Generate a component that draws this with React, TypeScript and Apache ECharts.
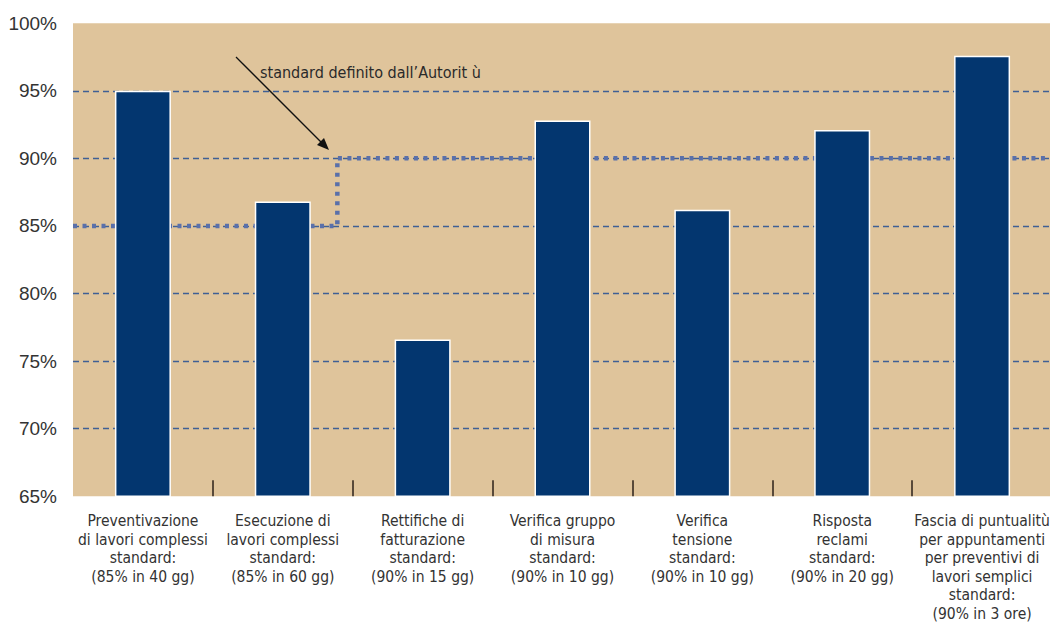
import React, { useEffect, useRef } from "react";
import * as echarts from "echarts";

// Service categories (x axis), one label per bar
const categories: string[] = [
  "Preventivazione\ndi lavori complessi\nstandard:\n(85% in 40 gg)",
  "Esecuzione di\nlavori complessi\nstandard:\n(85% in 60 gg)",
  "Rettifiche di\nfatturazione\nstandard:\n(90% in 15 gg)",
  "Verifica gruppo\ndi misura\nstandard:\n(90% in 10 gg)",
  "Verifica\ntensione\nstandard:\n(90% in 10 gg)",
  "Risposta\nreclami\nstandard:\n(90% in 20 gg)",
  "Fascia di puntualitù\nper appuntamenti\nper preventivi di\nlavori semplici\nstandard:\n(90% in 3 ore)",
];

// Share of requests handled within the standard time (%)
const compliance: number[] = [95.0, 86.8, 76.6, 92.8, 86.2, 92.1, 97.6];

// Y axis range and step (%)
const yMin = 65;
const yMax = 100;
const yStep = 5;

// Regulatory standard, as a step line over category positions [position, %]
const standardLine: [number, number][] = [
  [0, 85],
  [1.89, 85],
  [1.89, 90],
  [7, 90],
];

const annotation = "standard definito dall’Autorit ù";

const FONT = "'DejaVu Sans Condensed', 'DejaVu Sans', sans-serif";

export default function App() {
  const ref = useRef<HTMLDivElement>(null);

  useEffect(() => {
    if (!ref.current) return;
    const chart = echarts.init(ref.current, undefined, { renderer: "svg" });

    const option: echarts.EChartsOption = {
      animation: false,
      backgroundColor: "#ffffff",
      grid: {
        left: 73,
        top: 23.2,
        width: 979,
        height: 473,
        show: true,
        backgroundColor: "#dfc49b",
        borderWidth: 0,
        containLabel: false,
        outerBoundsMode: "none",
      } as any,
      xAxis: [
        {
          type: "category",
          data: categories,
          boundaryGap: true,
          axisLine: { show: false },
          axisTick: {
            show: true,
            inside: true,
            length: 16,
            interval: (index: number) => index !== 0,
            lineStyle: { color: "#2b2018", width: 1.5 },
          },
          axisLabel: {
            interval: 0,
            margin: 16,
            color: "#333333",
            fontFamily: FONT,
            fontSize: 15.5,
            lineHeight: 18.5,
            align: "center",
            verticalAlign: "top",
          },
          splitLine: { show: false },
        },
        {
          type: "value",
          min: 0,
          max: 7,
          show: false,
        },
      ],
      yAxis: {
        type: "value",
        min: yMin,
        max: yMax,
        interval: yStep,
        axisLine: { show: false },
        axisTick: { show: false },
        axisLabel: {
          formatter: "{value}%",
          color: "#333333",
          fontFamily: "'Liberation Sans', Arial, sans-serif",
          fontSize: 19,
          margin: 16,
        },
        splitLine: {
          show: true,
          showMinLine: false,
          showMaxLine: false,
          lineStyle: { color: "#3f5f95", width: 1.3, type: [6, 4] },
        },
      },
      series: [
        {
          type: "line",
          xAxisIndex: 1,
          data: standardLine,
          symbol: "none",
          z: 1,
          lineStyle: { color: "#5a70aa", width: 4.5, type: [4, 5.5] },
        },
        {
          type: "bar",
          xAxisIndex: 0,
          data: compliance,
          barWidth: 56,
          z: 3,
          itemStyle: {
            color: "#03366f",
            borderColor: "#ffffff",
            borderWidth: 1.5,
          },
        },
      ],
      graphic: [
        {
          type: "line",
          shape: { x1: 236, y1: 57, x2: 322, y2: 143 },
          style: { stroke: "#111111", lineWidth: 1.3 },
          z: 10,
        },
        {
          type: "polygon",
          shape: {
            points: [
              [329, 150],
              [317, 145],
              [324, 138],
            ],
          },
          style: { fill: "#111111" },
          z: 10,
        },
        {
          type: "text",
          x: 260,
          y: 72,
          style: {
            text: annotation,
            fill: "#2a2a2a",
            font: `16px ${FONT}`,
            verticalAlign: "middle",
          },
          z: 10,
        },
      ],
    };

    chart.setOption(option);
    return () => chart.dispose();
  }, []);

  return (
    <div
      ref={ref}
      style={{ position: "fixed", left: 0, top: 0, width: 1050, height: 623 }}
    />
  );
}
